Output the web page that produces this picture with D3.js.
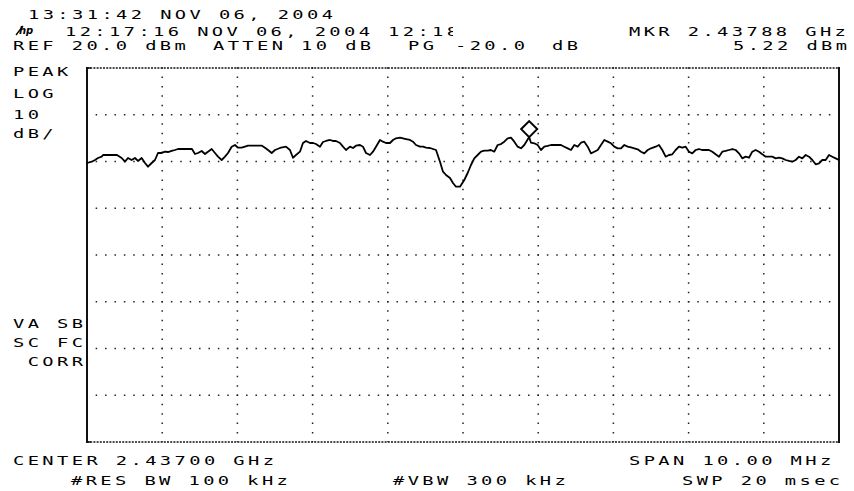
<!DOCTYPE html>
<meta charset="utf-8">
<script src="https://cdnjs.cloudflare.com/ajax/libs/d3/7.8.5/d3.min.js"></script>
<body style="margin:0;background:#fff">
<style>
  text { font-family: 'DejaVu Sans Mono', monospace; white-space: pre; fill: #000; }
</style>
<div id="chart"></div>
<script>
// analyzer settings
var startMHz = 2432, stopMHz = 2442;
var refLevel = 20, dbPerDiv = 10, vDivs = 8, hDivs = 10;
var markerMHz = 2437.88, markerDbm = 5.22;

// trace (MHz, dBm)
var traceFreqMHz = [
  2432.000, 2432.063, 2432.106, 2432.146, 2432.195, 2432.213, 2432.399, 2432.461, 2432.505, 2432.545,
  2432.594, 2432.638, 2432.678, 2432.727, 2432.771, 2432.811, 2432.860, 2432.904, 2432.944, 2432.993,
  2433.037, 2433.077, 2433.126, 2433.170, 2433.210, 2433.396, 2433.436, 2433.476, 2433.525, 2433.569,
  2433.609, 2433.658, 2433.702, 2433.742, 2433.791, 2433.835, 2433.875, 2433.924, 2433.968, 2434.008,
  2434.057, 2434.101, 2434.141, 2434.327, 2434.367, 2434.407, 2434.456, 2434.500, 2434.566, 2434.646,
  2434.699, 2434.739, 2434.779, 2434.832, 2434.872, 2434.912, 2434.965, 2435.005, 2435.045, 2435.098,
  2435.138, 2435.178, 2435.231, 2435.271, 2435.311, 2435.364, 2435.404, 2435.444, 2435.497, 2435.537,
  2435.577, 2435.630, 2435.670, 2435.710, 2435.763, 2435.803, 2435.843, 2435.896, 2435.936, 2435.976,
  2436.029, 2436.069, 2436.109, 2436.162, 2436.202, 2436.242, 2436.295, 2436.335, 2436.375, 2436.428,
  2436.468, 2436.508, 2436.561, 2436.601, 2436.641, 2436.694, 2436.734, 2436.774, 2436.827, 2436.867,
  2436.907, 2436.960, 2437.017, 2437.062, 2437.106, 2437.150, 2437.195, 2437.239, 2437.283, 2437.328,
  2437.372, 2437.416, 2437.461, 2437.505, 2437.549, 2437.594, 2437.638, 2437.682, 2437.727, 2437.771,
  2437.815, 2437.880, 2437.904, 2437.948, 2437.993, 2438.037, 2438.081, 2438.126, 2438.170, 2438.303,
  2438.347, 2438.392, 2438.436, 2438.480, 2438.525, 2438.569, 2438.613, 2438.658, 2438.702, 2438.746,
  2438.791, 2438.835, 2438.879, 2438.924, 2438.968, 2439.012, 2439.057, 2439.101, 2439.145, 2439.190,
  2439.234, 2439.278, 2439.323, 2439.367, 2439.411, 2439.456, 2439.500, 2439.562, 2439.606, 2439.650,
  2439.695, 2439.739, 2439.783, 2439.828, 2439.872, 2439.916, 2439.961, 2440.005, 2440.049, 2440.094,
  2440.138, 2440.178, 2440.271, 2440.315, 2440.360, 2440.404, 2440.448, 2440.493, 2440.537, 2440.581,
  2440.626, 2440.670, 2440.714, 2440.759, 2440.803, 2440.847, 2440.892, 2440.936, 2440.980, 2441.025,
  2441.113, 2441.158, 2441.202, 2441.246, 2441.291, 2441.335, 2441.379, 2441.424, 2441.468, 2441.512,
  2441.557, 2441.601, 2441.645, 2441.690, 2441.734, 2441.778, 2441.823, 2441.867, 2441.911, 2441.956,
  2442.000
];
var traceDbm = [
  -0.32, -0.04, 0.32, 0.75, 1.03, 1.39, 1.39, 0.75, -0.04, 0.75,
  0.32, 0.75, 0.11, 0.75, -0.32, -1.11, -0.32, 0.32, 1.82, 1.82,
  2.10, 2.03, 2.25, 2.46, 2.67, 2.67, 1.60, 1.82, 2.25, 1.60,
  2.10, 2.67, 1.82, 1.03, 0.32, 1.03, 1.82, 3.17, 3.53, 2.95,
  2.95, 3.17, 3.38, 3.38, 2.95, 2.46, 1.82, 2.46, 2.89, 3.17,
  2.46, 0.81, 1.39, 2.10, 3.96, 4.39, 3.96, 3.96, 3.74, 3.17,
  4.17, 4.39, 4.60, 4.39, 4.39, 3.96, 3.17, 2.46, 3.17, 2.89,
  3.38, 3.53, 3.17, 1.82, 1.39, 2.10, 3.17, 4.60, 4.24, 3.96,
  3.96, 4.60, 4.96, 5.09, 4.96, 4.81, 4.60, 4.24, 3.53, 3.17,
  3.17, 2.95, 2.89, 2.67, 2.46, -0.04, -2.18, -2.89, -3.53, -4.60,
  -5.39, -5.39, -3.96, -2.46, -0.75, 0.68, 1.39, 2.10, 2.31, 2.31,
  2.46, 2.10, 3.53, 3.74, 4.24, 4.96, 5.10, 4.24, 3.17, 2.82,
  3.53, 5.22, 4.02, 3.89, 3.53, 2.46, 3.17, 3.32, 3.53, 3.53,
  3.17, 2.82, 2.46, 3.53, 3.17, 4.02, 4.24, 3.17, 1.75, 2.10,
  2.46, 3.53, 4.60, 4.24, 3.89, 3.17, 2.82, 2.82, 3.53, 3.17,
  3.04, 2.82, 2.61, 2.10, 1.75, 2.46, 2.82, 3.17, 3.53, 2.46,
  1.03, 1.39, 1.54, 2.46, 3.17, 2.95, 3.17, 2.10, 1.75, 2.46,
  2.67, 2.46, 2.46, 2.10, 1.54, 1.03, 2.10, 2.25, 2.46, 2.67,
  2.46, 1.75, 0.68, 1.03, 0.81, 2.10, 2.46, 2.10, 1.54, 1.03,
  1.03, 0.68, 0.81, 0.68, 0.32, 0.11, -0.04, 0.32, 1.03, 0.68,
  1.39, 1.03, 0.32, -0.60, -0.39, 0.32, 0.32, 1.39, 1.03, 0.68,
  0.32
];

// screen annotations
var dateLine = "13:31:42 NOV 06, 2004";
var titleLine = "12:17:16 NOV 06, 2004 12:18";
var refText = "REF 20.0 dBm";
var attenText = "ATTEN 10 dB";
var pgText = ["PG", "-20.0", "dB"];
var mkrFreqText = "MKR 2.43788 GHz";
var mkrLevelText = "5.22 dBm";
var leftTop = ["PEAK", "LOG", "10", "dB/"];
var leftMid = ["VA SB", "SC FC", " CORR"];
var centerText = "CENTER 2.43700 GHz";
var spanText = "SPAN 10.00 MHz";
var rbwText = "#RES BW 100 kHz";
var vbwText = "#VBW 300 kHz";
var swpText = "SWP 20 msec";

var W = 854, H = 491;
var plot = {left: 87, right: 839, top: 68, bottom: 442};

var svg = d3.select("#chart").append("svg")
  .attr("width", W).attr("height", H)
  .style("display", "block");

svg.append("rect").attr("width", W).attr("height", H).attr("fill", "#fff");

var x = d3.scaleLinear().domain([startMHz, stopMHz]).range([plot.left, plot.right]);
var y = d3.scaleLinear().domain([refLevel - vDivs * dbPerDiv, refLevel]).range([plot.bottom, plot.top]);

// wide plotter lettering: stretched mono font on a ~14.7px pitch
var SX = 1.5;
function label(str, px, py, clipW) {
  var g = svg.append("g").attr("transform", "translate(" + px + "," + py + ") scale(" + SX + ",1)");
  var t = g.append("text")
    .attr("font-size", 12.5)
    .attr("letter-spacing", 2.27)
    .text(str);
  if (clipW) {
    var id = "clip" + Math.round(px);
    svg.append("clipPath").attr("id", id)
      .append("rect").attr("x", 0).attr("y", -20).attr("width", clipW / SX).attr("height", 30);
    g.attr("clip-path", "url(#" + id + ")");
  }
  return t;
}

// grid
var pitchX = (plot.right - plot.left) / hDivs / 8;
var pitchY = (plot.bottom - plot.top) / vDivs / 5;
var grid = svg.append("g").attr("stroke", "#222").attr("stroke-width", 1.5);

var dbLines = d3.range(1, vDivs).map(function(i) { return refLevel - i * dbPerDiv; });
grid.selectAll(".h").data(dbLines).enter().append("line")
  .attr("x1", plot.left - 0.75).attr("x2", plot.right)
  .attr("y1", function(d) { return y(d); }).attr("y2", function(d) { return y(d); })
  .attr("stroke-dasharray", "1.5," + (pitchX - 1.5));

var fLines = d3.range(1, hDivs).map(function(i) { return startMHz + i * (stopMHz - startMHz) / hDivs; });
grid.selectAll(".v").data(fLines).enter().append("line")
  .attr("y1", plot.top - 0.75).attr("y2", plot.bottom)
  .attr("x1", function(d) { return x(d); }).attr("x2", function(d) { return x(d); })
  .attr("stroke-dasharray", "1.5," + (pitchY - 1.5));

// frame: solid sides, fine dotted top/bottom
var frame = svg.append("g").attr("stroke", "#111");
[plot.top, plot.bottom].forEach(function(yy) {
  frame.append("line").attr("x1", plot.left).attr("x2", plot.right)
    .attr("y1", yy).attr("y2", yy)
    .attr("stroke-width", 1.3).attr("stroke-dasharray", "2,1.2");
});
[plot.left, plot.right].forEach(function(xx) {
  frame.append("line").attr("x1", xx).attr("x2", xx)
    .attr("y1", plot.top - 1).attr("y2", plot.bottom + 1)
    .attr("stroke-width", 2);
});
frame.append("line").attr("x1", plot.left).attr("x2", plot.left + 4)
  .attr("y1", plot.top).attr("y2", plot.top).attr("stroke-width", 1.5);
frame.append("line").attr("x1", plot.left).attr("x2", plot.left + 4)
  .attr("y1", plot.bottom).attr("y2", plot.bottom).attr("stroke-width", 1.5);

// trace
var trace = traceFreqMHz.map(function(f, i) { return {f: f, db: traceDbm[i]}; });
var line = d3.line()
  .x(function(d) { return x(d.f); })
  .y(function(d) { return y(d.db); });
svg.append("path").datum(trace)
  .attr("d", line)
  .attr("fill", "none")
  .attr("stroke", "#000")
  .attr("stroke-width", 1.8)
  .attr("stroke-linejoin", "round");

// marker diamond sits just above the marked point
var mx = x(markerMHz), my = y(markerDbm) - 8;
svg.append("path")
  .attr("d", "M" + mx + "," + (my - 8) + "L" + (mx + 8) + "," + my + "L" + mx + "," + (my + 8) + "L" + (mx - 8) + "," + my + "Z")
  .attr("fill", "#fff").attr("stroke", "#000").attr("stroke-width", 2);

// hp logo
var logo = svg.append("g");
logo.append("line").attr("x1", 16).attr("y1", 35).attr("x2", 23).attr("y2", 26)
  .attr("stroke", "#000").attr("stroke-width", 1.3);
logo.append("text").attr("x", 19).attr("y", 34).attr("font-size", 10)
  .style("font-style", "italic").style("font-weight", "bold")
  .style("font-family", "'DejaVu Sans', sans-serif").text("hp");

// header
label(dateLine, 28, 18.5);
label(titleLine, 65, 35.5, 388);
label(refText, 13, 50.3);
label(attenText, 213, 50.3);
label(pgText[0], 408, 50.3);
label(pgText[1], 455, 50.3);
label(pgText[2], 552, 50.3);
label(mkrFreqText, 629, 35.5);
label(mkrLevelText, 733, 50.3);

// left side
var leftTopY = [76, 98, 119, 138];
leftTop.forEach(function(s, i) { label(s, 13, leftTopY[i]); });
leftMid.forEach(function(s, i) { label(s, 13, 328 + i * 18.8); });

// footer
label(centerText, 13, 465);
label(spanText, 629, 465);
label(rbwText, 71, 485);
label(vbwText, 393, 485);
label(swpText, 682, 485);
</script>
</body>
